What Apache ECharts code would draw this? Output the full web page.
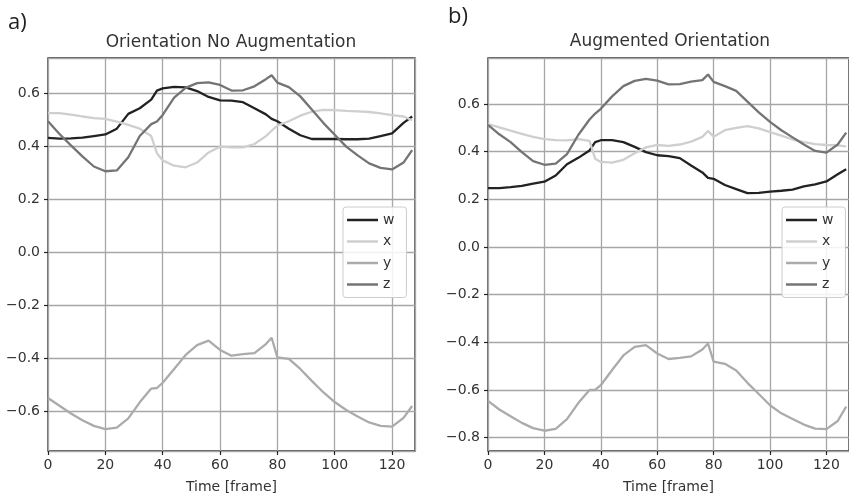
<!DOCTYPE html>
<html>
<head>
<meta charset="utf-8">
<script src="https://cdn.jsdelivr.net/npm/echarts@6/dist/echarts.min.js"></script>
<style>
  html, body { margin: 0; padding: 0; background: #fff; }
  #chart { width: 849px; height: 499px; }
</style>
</head>
<body>
<div id="chart"></div>
<script>
// sampled frames (same for every series)
const frames = [0, 4, 8, 12, 16, 20, 24, 28, 32, 36, 38, 40, 44, 48, 52, 56, 60, 64, 68, 72, 76, 78, 80, 84, 88, 92, 96, 100, 104, 108, 112, 116, 120, 124, 127];

// a) Orientation No Augmentation
const aW = [0.433, 0.430, 0.431, 0.434, 0.440, 0.446, 0.468, 0.524, 0.545, 0.578, 0.612, 0.620, 0.626, 0.624, 0.610, 0.588, 0.575, 0.574, 0.568, 0.545, 0.522, 0.505, 0.496, 0.468, 0.443, 0.429, 0.429, 0.429, 0.428, 0.428, 0.430, 0.440, 0.450, 0.490, 0.514];
const aX = [0.527, 0.527, 0.521, 0.514, 0.508, 0.505, 0.495, 0.482, 0.468, 0.440, 0.375, 0.348, 0.328, 0.322, 0.340, 0.378, 0.400, 0.397, 0.397, 0.410, 0.440, 0.460, 0.480, 0.496, 0.517, 0.532, 0.539, 0.538, 0.535, 0.533, 0.531, 0.526, 0.519, 0.514, 0.500];
const aY = [-0.550, -0.579, -0.608, -0.634, -0.655, -0.667, -0.662, -0.627, -0.566, -0.514, -0.512, -0.492, -0.440, -0.387, -0.350, -0.333, -0.368, -0.390, -0.384, -0.380, -0.346, -0.322, -0.396, -0.402, -0.440, -0.485, -0.528, -0.565, -0.595, -0.620, -0.642, -0.655, -0.658, -0.625, -0.580];
const aZ = [0.496, 0.448, 0.405, 0.363, 0.325, 0.307, 0.310, 0.360, 0.440, 0.485, 0.495, 0.520, 0.585, 0.622, 0.640, 0.643, 0.633, 0.612, 0.613, 0.628, 0.655, 0.670, 0.642, 0.625, 0.590, 0.540, 0.490, 0.445, 0.400, 0.367, 0.337, 0.320, 0.314, 0.340, 0.387];

// b) Augmented Orientation
const bW = [0.247, 0.247, 0.251, 0.256, 0.266, 0.274, 0.300, 0.347, 0.374, 0.405, 0.440, 0.448, 0.448, 0.440, 0.420, 0.398, 0.385, 0.381, 0.373, 0.342, 0.313, 0.290, 0.286, 0.260, 0.243, 0.226, 0.227, 0.232, 0.236, 0.241, 0.254, 0.263, 0.275, 0.305, 0.326];
const bX = [0.516, 0.502, 0.488, 0.475, 0.462, 0.453, 0.448, 0.447, 0.453, 0.445, 0.370, 0.357, 0.354, 0.366, 0.393, 0.418, 0.428, 0.424, 0.430, 0.442, 0.462, 0.487, 0.463, 0.490, 0.500, 0.507, 0.498, 0.482, 0.467, 0.451, 0.440, 0.432, 0.428, 0.426, 0.422];
const bY = [-0.646, -0.682, -0.710, -0.738, -0.760, -0.771, -0.763, -0.722, -0.655, -0.600, -0.600, -0.580, -0.516, -0.455, -0.419, -0.412, -0.447, -0.470, -0.465, -0.459, -0.430, -0.405, -0.481, -0.490, -0.518, -0.570, -0.617, -0.664, -0.698, -0.722, -0.745, -0.762, -0.764, -0.730, -0.670];
const bZ = [0.512, 0.473, 0.440, 0.398, 0.360, 0.345, 0.350, 0.390, 0.470, 0.535, 0.560, 0.580, 0.632, 0.675, 0.697, 0.705, 0.698, 0.682, 0.683, 0.694, 0.700, 0.724, 0.693, 0.675, 0.655, 0.610, 0.565, 0.525, 0.490, 0.460, 0.430, 0.403, 0.396, 0.430, 0.480];

const names = ['w', 'x', 'y', 'z'];
const colors = ['#222222', '#cfcfcf', '#ababab', '#747474'];
const font = 'DejaVu Sans';

const chart = echarts.init(document.getElementById('chart'));

function fmt(v) {
  return (v < 0 ? '\u2212' : '') + Math.abs(v).toFixed(1);
}

function xAxisFor(idx) {
  return {
    type: 'value', gridIndex: idx, min: 0, max: 128, interval: 20,
    name: 'Time [frame]', nameLocation: 'middle', nameGap: 29,
    nameTextStyle: { fontFamily: font, fontSize: 14, color: '#333' },
    axisLine: { show: false, onZero: false },
    axisTick: { show: true, length: 4, lineStyle: { color: '#222', width: 1.2 } },
    axisLabel: { fontFamily: font, fontSize: 14, color: '#333', margin: 7, showMaxLabel: false },
    splitLine: { show: true, lineStyle: { color: '#a6a6a6', width: 1.3 } }
  };
}

function yAxisFor(idx, min, max) {
  return {
    type: 'value', gridIndex: idx, min: min, max: max,
    minInterval: 0.2, maxInterval: 0.2,
    axisLine: { show: false, onZero: false },
    axisTick: { show: true, length: 4, lineStyle: { color: '#222', width: 1.2 } },
    axisLabel: { fontFamily: font, fontSize: 14, color: '#333', margin: 8,
      showMinLabel: false, showMaxLabel: false, formatter: fmt },
    splitLine: { show: true, lineStyle: { color: '#a6a6a6', width: 1.3 } }
  };
}

function legendFor(left) {
  return {
    orient: 'vertical', left: left, top: 207,
    data: names, icon: 'rect', itemWidth: 31, itemHeight: 2.5, itemGap: 7.5,
    padding: [6, 12, 6, 4],
    borderColor: '#cccccc', borderWidth: 1, borderRadius: 3,
    backgroundColor: 'rgba(255,255,255,0.85)',
    textStyle: { fontFamily: font, fontSize: 14, color: '#333', lineHeight: 14 },
    selectedMode: false
  };
}

function lines(idx, arrays) {
  return arrays.map((arr, i) => ({
    name: names[i], type: 'line', xAxisIndex: idx, yAxisIndex: idx,
    data: frames.map((f, k) => [f, arr[k]]),
    showSymbol: false, smooth: false,
    lineStyle: { color: colors[i], width: 2.3 },
    itemStyle: { color: colors[i] },
    z: 3 + i
  }));
}

const option = {
  animation: false,
  backgroundColor: '#fff',
  grid: [
    { left: 48, top: 58, width: 367, height: 393, show: true, borderColor: '#222', borderWidth: 1.3 },
    { left: 488, top: 58, width: 364, height: 393, show: true, borderColor: '#222', borderWidth: 1.3 }
  ],
  xAxis: [xAxisFor(0), xAxisFor(1)],
  yAxis: [yAxisFor(0, -0.75, 0.735), yAxisFor(1, -0.856, 0.793)],
  legend: [legendFor(343), legendFor(782)],
  graphic: [
    { type: 'text', left: 8, top: 12, style: { text: 'a)', font: '22px "Open Sans"', fill: '#222' } },
    { type: 'text', left: 448, top: 6, style: { text: 'b)', font: '22px "Open Sans"', fill: '#222' } },
    { type: 'text', x: 231, y: 43, style: { text: 'Orientation No Augmentation', font: '17px "DejaVu Sans"', fill: '#333', textAlign: 'center', textVerticalAlign: 'middle' } },
    { type: 'text', x: 670, y: 42, style: { text: 'Augmented Orientation', font: '17px "DejaVu Sans"', fill: '#333', textAlign: 'center', textVerticalAlign: 'middle' } }
  ],
  series: lines(0, [aW, aX, aY, aZ]).concat(lines(1, [bW, bX, bY, bZ]))
};

chart.setOption(option);
</script>
</body>
</html>
